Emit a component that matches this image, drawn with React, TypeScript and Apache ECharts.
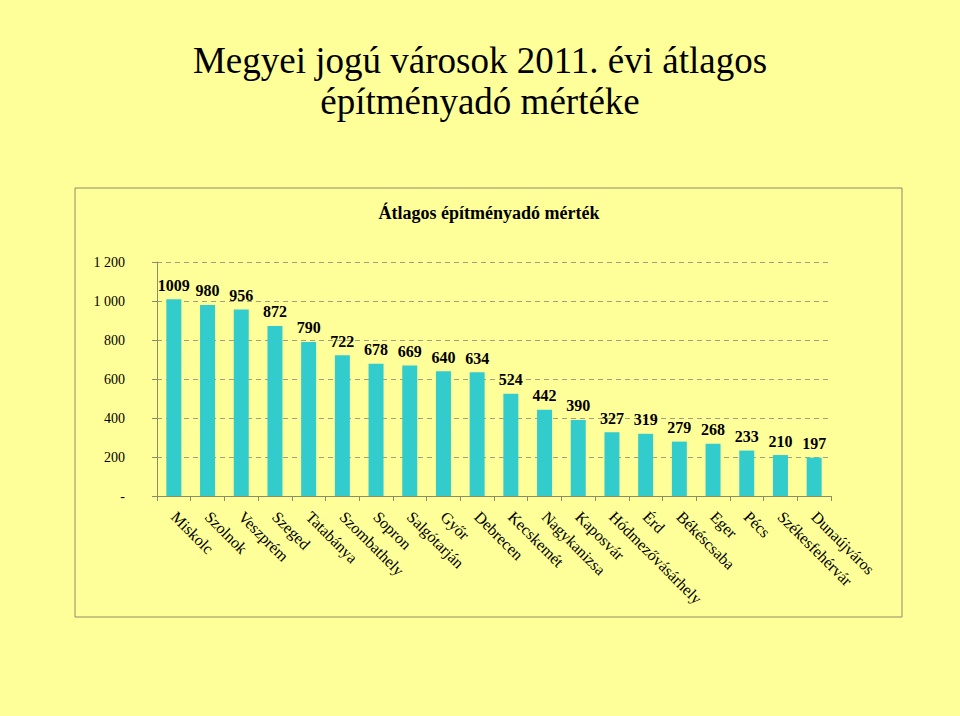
import React, { useEffect, useRef } from "react";
import * as echarts from "echarts";

const categories = [
  "Miskolc", "Szolnok", "Veszprém", "Szeged", "Tatabánya", "Szombathely", "Sopron",
  "Salgótarján", "Győr", "Debrecen", "Kecskemét", "Nagykanizsa", "Kaposvár",
  "Hódmezővásárhely", "Érd", "Békéscsaba", "Eger", "Pécs", "Székesfehérvár", "Dunaújváros",
];
const values = [1009, 980, 956, 872, 790, 722, 678, 669, 640, 634, 524, 442, 390, 327, 319, 279, 268, 233, 210, 197];
const yTicks = [0, 200, 400, 600, 800, 1000, 1200];

const mainTitleLines = ["Megyei jogú városok 2011. évi átlagos", "építményadó mértéke"];
const chartTitle = "Átlagos építményadó mérték";

const SERIF = "'Liberation Serif', 'Times New Roman', serif";
const AXIS = "#8C8C66";
const GRID = "#A0A080";

function fmt(v: number): string {
  if (v === 0) return "-";
  const s = String(v);
  return s.length > 3 ? s.slice(0, s.length - 3) + " " + s.slice(s.length - 3) : s;
}

export default function App() {
  const ref = useRef<HTMLDivElement>(null);
  useEffect(() => {
    if (!ref.current) return;
    const chart = echarts.init(ref.current, null, { renderer: "svg" });
    chart.setOption({
      animation: false,
      backgroundColor: "#FFFF99",
      graphic: [
        {
          type: "rect",
          shape: { x: 75, y: 188, width: 827, height: 429 },
          style: { fill: "none", stroke: AXIS, lineWidth: 1 },
          silent: true,
          z: -1,
        },
        ...mainTitleLines.map((t, i) => ({
          type: "text",
          x: 480,
          y: 79 + i * 41,
          style: {
            text: t,
            fontFamily: SERIF,
            fontSize: 37,
            fill: "#000",
            textAlign: "center",
            textVerticalAlign: "bottom",
          },
          silent: true,
        })),
        {
          type: "text",
          x: 489,
          y: 213,
          style: {
            text: chartTitle,
            fontFamily: SERIF,
            fontSize: 18,
            fontWeight: "bold",
            fill: "#000",
            textAlign: "center",
            textVerticalAlign: "middle",
          },
          silent: true,
        },
      ],
      grid: { left: 157, right: 129, top: 262, bottom: 220, containLabel: false },
      xAxis: {
        type: "category",
        data: categories,
        axisLine: { show: true, lineStyle: { color: AXIS, width: 1 } },
        axisTick: { show: true, length: 5, lineStyle: { color: AXIS } },
        axisLabel: {
          rotate: -45,
          margin: 18,
          interval: 0,
          fontFamily: SERIF,
          fontSize: 16,
          color: "#000",
        },
      },
      yAxis: {
        type: "value",
        min: 0,
        max: 1200,
        interval: 200,
        axisLine: { show: true, lineStyle: { color: AXIS, width: 1 } },
        axisTick: { show: true, length: 5, lineStyle: { color: AXIS } },
        axisLabel: {
          margin: 32,
          fontFamily: SERIF,
          fontSize: 14,
          color: "#000",
          formatter: (v: number) => (yTicks.includes(v) ? fmt(v) : ""),
        },
        splitLine: { show: true, lineStyle: { color: GRID, type: [5, 4], width: 1 } },
      },
      series: [
        {
          type: "bar",
          data: values,
          barWidth: 15,
          itemStyle: { color: "#33CCCC" },
          label: {
            show: true,
            position: "top",
            distance: 6,
            fontFamily: SERIF,
            fontSize: 16,
            fontWeight: "bold",
            color: "#000",
          },
        },
      ],
    });
    return () => chart.dispose();
  }, []);
  return (
    <div
      ref={ref}
      style={{ position: "fixed", left: 0, top: 0, width: 960, height: 716 }}
    />
  );
}
